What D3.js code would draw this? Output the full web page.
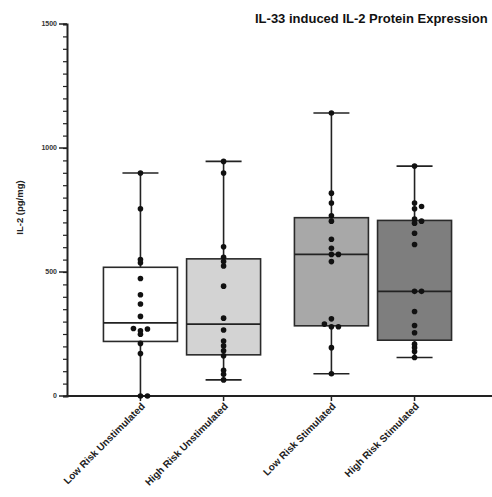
<!DOCTYPE html>
<html>
<head>
<meta charset="utf-8">
<script src="https://cdn.jsdelivr.net/npm/d3@7"></script>
<style>
    body { margin: 0; background: #fff; }
    svg { display: block; font-family: "Liberation Sans", Arial, sans-serif; }
    .axis path, .axis line { stroke: #222; }
    .tick-label { font-size: 7px; font-weight: bold; fill: #333; }
</style>
</head>
<body>
<svg id="chart" width="492" height="497"></svg>
<script>
// categories and grouping
var categories = ['Low Risk Unstimulated', 'High Risk Unstimulated', 'Low Risk Stimulated', 'High Risk Stimulated'];
var stimulation = ['Unstimulated', 'Unstimulated', 'Stimulated', 'Stimulated'];
var risk = ['Low', 'High', 'Low', 'High'];
var fills = ['#ffffff', '#d3d3d3', '#a8a8a8', '#7e7e7e'];

// box statistics (pg/mg)
var whiskerMin = [0, 65, 90, 155];
var q1 = [220, 166, 283, 225];
var median = [295, 290, 571, 422];
var q3 = [519, 553, 719, 708];
var whiskerMax = [899, 946, 1141, 927];

// individual samples
var lowUnstim = [0, 0, 171, 212, 249, 263, 270, 272, 321, 371, 408, 474, 537, 550, 755, 899];
var highUnstim = [65, 88, 104, 162, 182, 202, 222, 266, 314, 443, 524, 542, 559, 602, 899, 946];
var lowStim = [90, 195, 279, 279, 290, 311, 542, 571, 571, 596, 632, 705, 727, 778, 818, 1141];
var highStim = [155, 179, 195, 209, 255, 284, 341, 422, 422, 611, 656, 697, 705, 714, 755, 764, 778, 927];
var samples = [lowUnstim, highUnstim, lowStim, highStim];

var yTicks = [0, 500, 1000, 1500];

var svg = d3.select('#chart');

var y = d3.scaleLinear().domain([0, 1500]).range([396, 24]);

var outer = d3.scaleBand()
    .domain(['Unstimulated', 'Stimulated'])
    .range([102, 453])
    .paddingInner(0.162);
var inner = d3.scaleBand()
    .domain(['Low', 'High'])
    .range([0, outer.bandwidth()])
    .paddingInner(0.075);

function xCenter(i) {
    return outer(stimulation[i]) + inner(risk[i]) + inner.bandwidth() / 2;
}
var boxW = 74;
var capW = 36;

// title
svg.append('text')
    .attr('x', 255)
    .attr('y', 23)
    .style('font-size', '13px')
    .style('font-weight', 'bold')
    .style('fill', '#111')
    .text('IL-33 induced IL-2 Protein Expression');

// y axis with minor ticks
var yAxis = svg.append('g')
    .attr('class', 'axis')
    .attr('transform', 'translate(67,0)');
yAxis.call(d3.axisLeft(y).tickValues(d3.range(0, 1501, 50)).tickSize(4).tickFormat(''))
    .call(function(g) { g.select('.domain').attr('stroke-width', 2); })
    .selectAll('.tick line').attr('stroke-width', 1.2);
yAxis.selectAll('.major')
    .data(yTicks)
    .enter()
    .append('line')
    .attr('x1', -8)
    .attr('x2', 0)
    .attr('y1', function(d) { return y(d); })
    .attr('y2', function(d) { return y(d); })
    .attr('stroke', '#222')
    .attr('stroke-width', 1.5);
yAxis.selectAll('.tick-label')
    .data(yTicks)
    .enter()
    .append('text')
    .attr('class', 'tick-label')
    .attr('x', -10)
    .attr('y', function(d) { return y(d); })
    .attr('dy', '0.35em')
    .attr('text-anchor', 'end')
    .text(function(d) { return d; });

svg.append('text')
    .attr('transform', 'translate(23,' + y(760) + ') rotate(-90)')
    .attr('text-anchor', 'middle')
    .style('font-size', '9.5px')
    .style('font-weight', 'bold')
    .style('fill', '#222')
    .text('IL-2 (pg/mg)');

// x axis
var xAxis = svg.append('g').attr('class', 'axis');
xAxis.append('line')
    .attr('x1', 66)
    .attr('x2', 492)
    .attr('y1', y(0))
    .attr('y2', y(0))
    .attr('stroke', '#222')
    .attr('stroke-width', 2);
xAxis.selectAll('.xtick')
    .data(categories)
    .enter()
    .append('line')
    .attr('x1', function(d, i) { return xCenter(i); })
    .attr('x2', function(d, i) { return xCenter(i); })
    .attr('y1', y(0))
    .attr('y2', y(0) + 5)
    .attr('stroke', '#222')
    .attr('stroke-width', 1.5);
xAxis.selectAll('.xlabel')
    .data(categories)
    .enter()
    .append('text')
    .attr('transform', function(d, i) {
        return 'translate(' + (xCenter(i) + 5) + ',' + (y(0) + 11) + ') rotate(-45)';
    })
    .attr('text-anchor', 'end')
    .style('font-size', '10px')
    .style('font-weight', 'bold')
    .style('fill', '#222')
    .text(function(d) { return d; });

// boxes
var boxes = svg.selectAll('g.box')
    .data(categories)
    .enter()
    .append('g')
    .classed('box', true);

boxes.append('line')
    .attr('x1', function(d, i) { return xCenter(i); })
    .attr('x2', function(d, i) { return xCenter(i); })
    .attr('y1', function(d, i) { return y(whiskerMax[i]); })
    .attr('y2', function(d, i) { return y(q3[i]); })
    .attr('stroke', '#222').attr('stroke-width', 1.6);
boxes.append('line')
    .attr('x1', function(d, i) { return xCenter(i); })
    .attr('x2', function(d, i) { return xCenter(i); })
    .attr('y1', function(d, i) { return y(q1[i]); })
    .attr('y2', function(d, i) { return y(whiskerMin[i]); })
    .attr('stroke', '#222').attr('stroke-width', 1.6);
[whiskerMax, whiskerMin].forEach(function(arr) {
    boxes.append('line')
        .attr('x1', function(d, i) { return xCenter(i) - capW / 2; })
        .attr('x2', function(d, i) { return xCenter(i) + capW / 2; })
        .attr('y1', function(d, i) { return y(arr[i]); })
        .attr('y2', function(d, i) { return y(arr[i]); })
        .attr('stroke', '#222').attr('stroke-width', 1.6);
});
boxes.append('rect')
    .attr('x', function(d, i) { return xCenter(i) - boxW / 2; })
    .attr('y', function(d, i) { return y(q3[i]); })
    .attr('width', boxW)
    .attr('height', function(d, i) { return y(q1[i]) - y(q3[i]); })
    .attr('fill', function(d, i) { return fills[i]; })
    .attr('stroke', '#2a2a2a')
    .attr('stroke-width', 1.6);
boxes.append('line')
    .attr('x1', function(d, i) { return xCenter(i) - boxW / 2; })
    .attr('x2', function(d, i) { return xCenter(i) + boxW / 2; })
    .attr('y1', function(d, i) { return y(median[i]); })
    .attr('y2', function(d, i) { return y(median[i]); })
    .attr('stroke', '#222').attr('stroke-width', 1.6);

// dots, spread sideways where they would overlap
function dodge(values, cx) {
    var placed = [];
    var step = 7;
    var offsets = [0, step, -step, 2 * step, -2 * step];
    values.slice().sort(d3.ascending).forEach(function(v) {
        var py = y(v);
        for (var k = 0; k < offsets.length; k++) {
            var px = cx + offsets[k];
            var hit = placed.some(function(p) {
                return Math.abs(p.y - py) < 3 && Math.abs(p.x - px) < step * 0.9;
            });
            if (!hit) { placed.push({x: px, y: py}); break; }
        }
    });
    return placed;
}

samples.forEach(function(vals, i) {
    svg.append('g').selectAll('circle')
        .data(dodge(vals, xCenter(i)))
        .enter()
        .append('circle')
        .attr('cx', function(d) { return d.x; })
        .attr('cy', function(d) { return d.y; })
        .attr('r', 2.8)
        .attr('fill', '#111');
});
</script>
</body>
</html>
